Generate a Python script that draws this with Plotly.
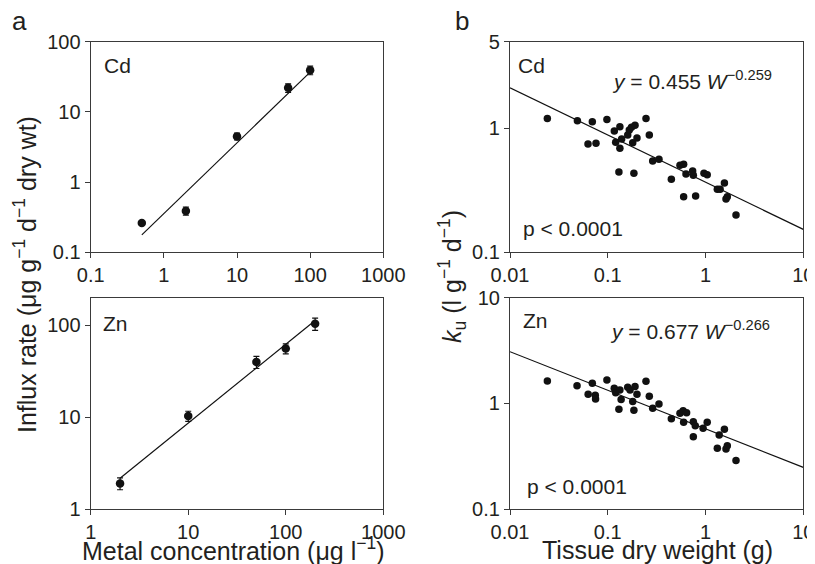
import numpy as np
import plotly.graph_objects as go

# ---------------- data ----------------
# Panel a: influx rate vs metal concentration
cd_conc = [0.5, 2, 10, 50, 100]
cd_influx = [0.262, 0.389, 4.48, 22.0, 39.3]
cd_influx_err = [0.012, 0.05, 0.5, 3.0, 5.5]
cd_fit_x = [0.5, 100]
cd_fit_y = [0.177, 36.8]

zn_conc = [2, 10, 50, 100, 200]
zn_influx = [1.90, 10.3, 39.9, 55.8, 104]
zn_influx_err = [0.28, 1.3, 6.0, 7.0, 16.0]
zn_fit_x = [2, 200]
zn_fit_y = [2.16, 113]

# Panel b: uptake rate constant vs tissue dry weight
cd_w = [0.0241, 0.0489, 0.0695, 0.0628, 0.0758, 0.098, 0.1167, 0.133, 0.1205, 0.133,
        0.1387, 0.130, 0.160, 0.166, 0.175, 0.190, 0.180, 0.199, 0.185, 0.246,
        0.266, 0.288, 0.334, 0.447, 0.548, 0.597, 0.597, 0.631, 0.738, 0.750,
        0.792, 0.964, 1.04, 1.32, 1.41, 1.56, 1.62, 1.67, 2.05]
cd_ku = [1.20, 1.15, 1.13, 0.748, 0.757, 1.18, 0.952, 1.03, 0.771, 0.69,
         0.82, 0.445, 0.883, 0.97, 1.02, 1.06, 0.766, 0.836, 0.434, 1.20,
         0.883, 0.545, 0.562, 0.388, 0.503, 0.513, 0.281, 0.428, 0.453, 0.418,
         0.285, 0.434, 0.423, 0.322, 0.322, 0.362, 0.269, 0.281, 0.200]
cd_b_fit_x = [0.01, 10]
cd_b_fit_y = [2.12, 0.153]

zn_w = [0.0241, 0.0485, 0.0695, 0.063, 0.0745, 0.075, 0.098, 0.1165, 0.1205, 0.133,
        0.137, 0.130, 0.160, 0.169, 0.190, 0.180, 0.199, 0.185, 0.246, 0.266,
        0.288, 0.334, 0.447, 0.548, 0.590, 0.597, 0.640, 0.750, 0.785, 0.750,
        0.944, 1.04, 1.38, 1.56, 1.32, 1.62, 1.67, 2.05]
zn_ku = [1.63, 1.47, 1.55, 1.22, 1.19, 1.10, 1.66, 1.39, 1.26, 1.34,
         1.09, 0.877, 1.42, 1.34, 1.44, 1.04, 1.22, 0.859, 1.62, 1.17,
         0.897, 0.986, 0.716, 0.804, 0.853, 0.661, 0.816, 0.671, 0.615, 0.484,
         0.580, 0.661, 0.501, 0.568, 0.375, 0.370, 0.397, 0.287]
zn_b_fit_x = [0.01, 10]
zn_b_fit_y = [3.08, 0.248]

# ---------------- layout helpers ----------------
VIEW_W, VIEW_H = 815, 564
OFF = 8  # default page body margin
W, H = VIEW_W - OFF, VIEW_H - OFF
FONT = "Liberation Sans, Arial, Helvetica, sans-serif"
INK = "#231f20"
AX = "#3a3a3a"

def px_x(p):
    return (p - OFF) / W

def px_y(p):
    return 1 - (p - OFF) / H

fig = go.Figure()

def axis_common(rng, tickvals, ticktext, domain, anchor):
    return dict(type="log", range=rng, tickvals=tickvals, ticktext=ticktext,
                domain=domain, anchor=anchor, showline=True, mirror=True,
                linecolor=AX, linewidth=1.2, ticks="outside", ticklen=5,
                tickwidth=1.2, tickcolor=AX, showgrid=False, zeroline=False,
                tickfont=dict(family=FONT, size=20, color=INK))

xa = [px_x(90.7), px_x(383.3)]
xb = [px_x(510), px_x(803.3)]
ytop = [px_y(252.3), px_y(41.7)]
ybot = [px_y(509), px_y(297.7)]

layout = dict(
    width=W, height=H, margin=dict(l=0, r=0, t=0, b=0, autoexpand=False),
    paper_bgcolor="white", plot_bgcolor="white", showlegend=False,
    xaxis=axis_common([-1, 3], [0.1, 1, 10, 100, 1000], ["0.1", "1", "10", "100", "1000"], xa, "y"),
    yaxis=axis_common([-1, 2], [0.1, 1, 10, 100], ["0.1", "1", "10", "100"], ytop, "x"),
    xaxis2=axis_common([0, 3], [1, 10, 100, 1000], ["1", "10", "100", "1000"], xa, "y2"),
    yaxis2=axis_common([0, np.log10(200)], [1, 10, 100], ["1", "10", "100"], ybot, "x2"),
    xaxis3=axis_common([-2, 1], [0.01, 0.1, 1, 10], ["0.01", "0.1", "1", "10"], xb, "y3"),
    yaxis3=axis_common([-1, np.log10(5)], [0.1, 1, 5], ["0.1", "1", "5"], ytop, "x3"),
    xaxis4=axis_common([-2, 1], [0.01, 0.1, 1, 10], ["0.01", "0.1", "1", "10"], xb, "y4"),
    yaxis4=axis_common([-1, 1], [0.1, 1, 10], ["0.1", "1", "10"], ybot, "x4"),
)
fig.update_layout(**layout)

line_style = dict(color="#111111", width=1.2)

def add_panel_a(x, y, err, fx, fy, xr, yr):
    fig.add_trace(go.Scatter(x=fx, y=fy, mode="lines", line=line_style,
                             xaxis=xr, yaxis=yr, hoverinfo="skip"))
    fig.add_trace(go.Scatter(x=x, y=y, mode="markers",
                             marker=dict(size=8.5, color="#111111"),
                             error_y=dict(type="data", array=err, visible=True,
                                          color="#111111", thickness=1.2, width=3),
                             xaxis=xr, yaxis=yr))

def add_panel_b(x, y, fx, fy, xr, yr):
    fig.add_trace(go.Scatter(x=fx, y=fy, mode="lines", line=line_style,
                             xaxis=xr, yaxis=yr, hoverinfo="skip"))
    fig.add_trace(go.Scatter(x=x, y=y, mode="markers",
                             marker=dict(size=7.5, color="#111111"),
                             xaxis=xr, yaxis=yr))

add_panel_a(cd_conc, cd_influx, cd_influx_err, cd_fit_x, cd_fit_y, "x", "y")
add_panel_a(zn_conc, zn_influx, zn_influx_err, zn_fit_x, zn_fit_y, "x2", "y2")
add_panel_b(cd_w, cd_ku, cd_b_fit_x, cd_b_fit_y, "x3", "y3")
add_panel_b(zn_w, zn_ku, zn_b_fit_x, zn_b_fit_y, "x4", "y4")

def ann(text, x, y, size=21, xanchor="left", yanchor="middle", angle=0):
    fig.add_annotation(text=text, x=px_x(x), y=px_y(y), xref="paper", yref="paper",
                       xanchor=xanchor, yanchor=yanchor, showarrow=False,
                       textangle=angle, font=dict(family=FONT, size=size, color=INK))

# panel letters
ann("a", 10, 21, size=26)
ann("b", 453, 21, size=26)

# metal labels
ann("Cd", 102, 65)
ann("Zn", 101, 323)
ann("Cd", 516, 65)
ann("Zn", 521, 320)

# equations and p-values
ann("<i>y</i> = 0.455 <i>W</i><sup>−0.259</sup>", 610, 80)
ann("<i>y</i> = 0.677 <i>W</i><sup>−0.266</sup>", 608, 330)
ann("p < 0.0001", 521, 228)
ann("p < 0.0001", 525, 486)

# axis titles
ann("Influx rate (μg g<sup>−1</sup> d<sup>−1</sup> dry wt)", 25, 275, size=25,
    xanchor="center", angle=-90)
ann("<i>k</i><sub>u</sub> (l g<sup>−1</sup> d<sup>−1</sup>)", 452, 277, size=25,
    xanchor="center", angle=-90)
ann("Metal concentration (μg l<sup>−1</sup>)", 233, 549, size=25, xanchor="center")
ann("Tissue dry weight (g)", 657, 550, size=25, xanchor="center")

fig.write_html("out.html")
